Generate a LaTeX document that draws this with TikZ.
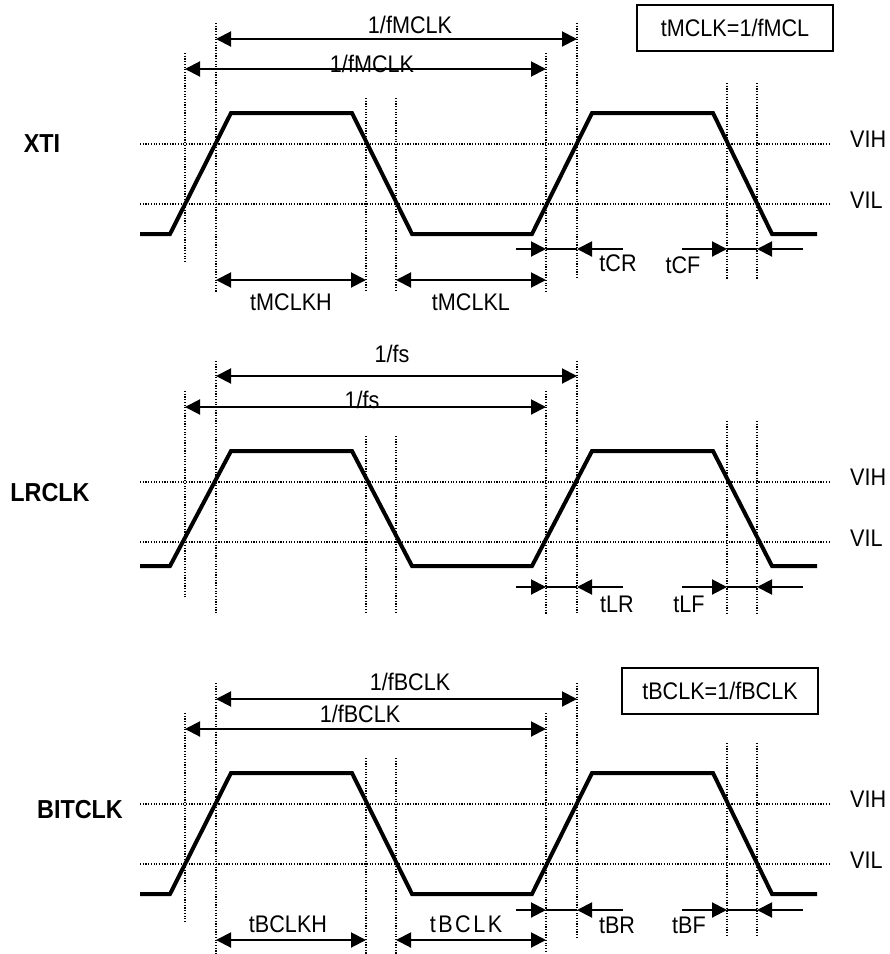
\documentclass[tikz,border=0pt]{standalone}
\usepackage{fontspec}
\setmainfont{Liberation Sans}[FakeStretch=0.9]
\usetikzlibrary{arrows.meta,positioning}
\tikzset{
    wave/.style={line width=4pt, line join=miter},
    guide/.style={line width=1.2pt, dash pattern=on 1.2pt off 1.5pt},
    dimline/.style={{Triangle[length=15pt,width=15pt]}-{Triangle[length=15pt,width=15pt]}, line width=2pt},
    endtip/.style={-{Triangle[length=15pt,width=15pt]}, line width=2pt},
    lbl/.style={inner sep=0pt, anchor=base, font=\fontsize{24}{24}\selectfont},
    signame/.style={inner sep=0pt, anchor=base, font=\bfseries\fontsize{26}{26}\selectfont},
    eqbox/.style={draw, line width=2pt, minimum width=196pt, minimum height=46pt, inner sep=0pt, font=\fontsize{24}{24}\selectfont}
}

\begin{document}
\begin{tikzpicture}[x=1pt, y=-1pt]
    \useasboundingbox (0,0) rectangle (890,954);

    % XTI
    \begin{scope}
        \foreach \x/\a/\b in {185/53/262, 216/23/292, 366/98/292, 396/98/292, 546/53/292, 577/23/277, 727/83/280, 757/83/280}
            \draw[guide] (\x,\a) -- (\x,\b);
        \foreach \y/\t/\s in {144/VIH/147, 204/VIL/208} {
            \draw[guide] (140,\y) -- (830,\y);
            \node[lbl, anchor=base west] (xti\t) at (850,\s) {\t};
        }
        \draw[wave] (140,234) -- (170,234) -- (231,113) -- (352,113) -- (412,234) -- (532,234) -- (592,113) -- (713,113) -- (772,234) -- (817,234);
        \node[signame] (xti) at (42,152) {XTI};
        \node[eqbox] (mclkbox) at (735,28) {tMCLK=1/fMCL};

        \coordinate (xa1) at (216,39);  \coordinate (xb1) at (577,39);
        \coordinate (xa2) at (185,69);  \coordinate (xb2) at (546,69);
        \draw[dimline] (xa1) -- (xb1);
        \draw[dimline] (xa2) -- (xb2);
        \node[lbl] (xper1) at (410,33) {1/fMCLK};
        \node[lbl] (xper2) at (372,72) {1/fMCLK};

        \coordinate (xh1) at (216,280); \coordinate (xh2) at (366,280);
        \coordinate (xl1) at (396,280); \coordinate (xl2) at (546,280);
        \draw[dimline] (xh1) -- (xh2);
        \draw[dimline] (xl1) -- (xl2);
        \node[lbl] (xhigh) at (291,310) {tMCLKH};
        \node[lbl] (xlow) at (471,310) {tMCLKL};

        \coordinate (xr0) at (516,249); \coordinate (xr1) at (546,249);
        \coordinate (xr2) at (577,249); \coordinate (xr3) at (623,249);
        \draw[endtip] (xr0) -- (xr1);
        \draw[line width=2pt] (xr1) -- (xr2);
        \draw[endtip] (xr3) -- (xr2);
        \node[lbl] (xrise) at (618,271) {tCR};

        \coordinate (xf0) at (682,249); \coordinate (xf1) at (727,249);
        \coordinate (xf2) at (757,249); \coordinate (xf3) at (803,249);
        \draw[endtip] (xf0) -- (xf1);
        \draw[line width=2pt] (xf1) -- (xf2);
        \draw[endtip] (xf3) -- (xf2);
        \node[lbl] (xfall) at (683,273) {tCF};
    \end{scope}

    % LRCLK
    \begin{scope}[shift={(0,338)}]
        \foreach \x/\a/\b in {185/53/260, 216/23/276, 366/98/276, 396/98/276, 546/53/276, 577/23/276, 727/83/276, 757/83/276}
            \draw[guide] (\x,\a) -- (\x,\b);
        \foreach \y/\t/\s in {144/VIH/147, 204/VIL/208} {
            \draw[guide] (140,\y) -- (830,\y);
            \node[lbl, anchor=base west] (lr\t) at (850,\s) {\t};
        }
        \draw[wave] (140,228) -- (170,228) -- (231,113) -- (352,113) -- (412,228) -- (532,228) -- (592,113) -- (713,113) -- (772,228) -- (817,228);
        \node[signame] (lrclk) at (50,163) {LRCLK};

        \coordinate (la1) at (216,38);  \coordinate (lb1) at (577,38);
        \coordinate (la2) at (185,69);  \coordinate (lb2) at (546,69);
        \draw[dimline] (la1) -- (lb1);
        \draw[dimline] (la2) -- (lb2);
        \node[lbl] (lper1) at (392,24) {1/fs};
        \node[lbl] (lper2) at (362,70) {1/fs};

        \coordinate (lr0) at (516,249); \coordinate (lr1) at (546,249);
        \coordinate (lr2) at (577,249); \coordinate (lr3) at (623,249);
        \draw[endtip] (lr0) -- (lr1);
        \draw[line width=2pt] (lr1) -- (lr2);
        \draw[endtip] (lr3) -- (lr2);
        \node[lbl] (lrise) at (617,274) {tLR};

        \coordinate (lf0) at (682,249); \coordinate (lf1) at (727,249);
        \coordinate (lf2) at (757,249); \coordinate (lf3) at (803,249);
        \draw[endtip] (lf0) -- (lf1);
        \draw[line width=2pt] (lf1) -- (lf2);
        \draw[endtip] (lf3) -- (lf2);
        \node[lbl] (lfall) at (689,274) {tLF};
    \end{scope}

    % BITCLK
    \begin{scope}[shift={(0,660)}]
        \foreach \x/\a/\b in {185/53/262, 216/23/294, 366/98/294, 396/98/294, 546/53/292, 577/23/277, 727/83/277, 757/83/277}
            \draw[guide] (\x,\a) -- (\x,\b);
        \foreach \y/\t/\s in {144/VIH/147, 204/VIL/208} {
            \draw[guide] (140,\y) -- (830,\y);
            \node[lbl, anchor=base west] (bit\t) at (850,\s) {\t};
        }
        \draw[wave] (140,234) -- (170,234) -- (231,113) -- (352,113) -- (412,234) -- (532,234) -- (592,113) -- (713,113) -- (772,234) -- (817,234);
        \node[signame] (bitclk) at (80,158) {BITCLK};
        \node[eqbox] (bclkbox) at (720,31) {tBCLK=1/fBCLK};

        \coordinate (ba1) at (216,39);  \coordinate (bb1) at (577,39);
        \coordinate (ba2) at (185,69);  \coordinate (bb2) at (546,69);
        \draw[dimline] (ba1) -- (bb1);
        \draw[dimline] (ba2) -- (bb2);
        \node[lbl] (bper1) at (410,30) {1/fBCLK};
        \node[lbl] (bper2) at (360,62) {1/fBCLK};

        \coordinate (bh1) at (216,280); \coordinate (bh2) at (366,280);
        \coordinate (bl1) at (396,280); \coordinate (bl2) at (546,280);
        \draw[dimline] (bh1) -- (bh2);
        \draw[dimline] (bl1) -- (bl2);
        \node[lbl] (bhigh) at (288,272) {tBCLKH};
        \node[lbl] (blow) at (466,272) {t\kern2.5pt B\kern2.5pt C\kern2.5pt L\kern2.5pt K};

        \coordinate (br0) at (516,250); \coordinate (br1) at (546,250);
        \coordinate (br2) at (577,250); \coordinate (br3) at (623,250);
        \draw[endtip] (br0) -- (br1);
        \draw[line width=2pt] (br1) -- (br2);
        \draw[endtip] (br3) -- (br2);
        \node[lbl] (brise) at (617,273) {tBR};

        \coordinate (bf0) at (682,250); \coordinate (bf1) at (727,250);
        \coordinate (bf2) at (757,250); \coordinate (bf3) at (803,250);
        \draw[endtip] (bf0) -- (bf1);
        \draw[line width=2pt] (bf1) -- (bf2);
        \draw[endtip] (bf3) -- (bf2);
        \node[lbl] (bfall) at (689,273) {tBF};
    \end{scope}
\end{tikzpicture}
\end{document}
